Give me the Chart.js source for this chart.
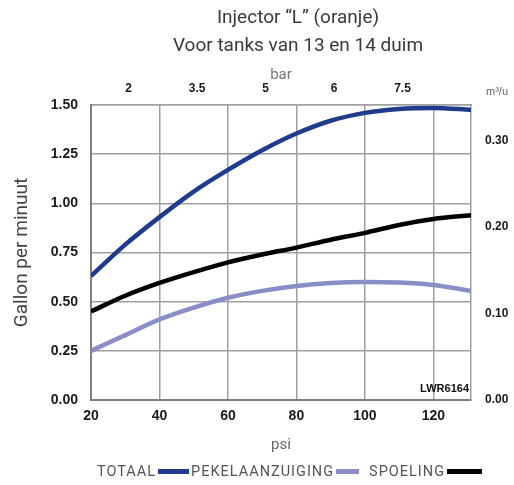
<!DOCTYPE html>
<html>
<head>
<meta charset="utf-8">
<script src="https://cdn.jsdelivr.net/npm/chart.js@4"></script>
<style>
  body { margin: 0; background: #fff; }
  #wrap { position: relative; width: 514px; height: 485px; overflow: hidden; }
  #chartCanvas { position: absolute; left: 0; top: 0; }
  .title {
    position: absolute; left: 98px; top: 3px; width: 400px;
    text-align: center; font-family: Roboto, sans-serif; font-size: 19px;
    line-height: 28px; color: #3a3a3a;
  }
  .legend {
    position: absolute; left: 97px; top: 460px; height: 22px;
    display: flex; align-items: center;
    font-family: Roboto, sans-serif; font-size: 14.5px; color: #555; letter-spacing: 1px;
  }
  .legend .sw { display: inline-block; height: 5px; margin: 0 2px; }
</style>
</head>
<body>
<div id="wrap">
  <canvas id="chartCanvas" width="514" height="485"></canvas>
  <div class="title">Injector “L” (oranje)<br>Voor tanks van 13 en 14 duim</div>
  <div class="legend" id="legend"></div>
</div>
<script>
// data
const psi = [20, 30, 40, 50, 60, 70, 80, 90, 100, 110, 120, 131];
const totaal = [0.63, 0.79, 0.93, 1.06, 1.17, 1.27, 1.355, 1.42, 1.46, 1.48, 1.485, 1.475];
const pekelaanzuiging = [0.25, 0.33, 0.41, 0.47, 0.52, 0.555, 0.58, 0.595, 0.60, 0.597, 0.585, 0.555];
const spoeling = [0.45, 0.53, 0.595, 0.65, 0.70, 0.74, 0.775, 0.815, 0.85, 0.89, 0.92, 0.94];

const seriesNames = ['TOTAAL', 'PEKELAANZUIGING', 'SPOELING'];
const seriesColors = ['#1f3c8c', '#8a8ec6', '#000000'];
const swatchWidths = [31, 23, 35];

const psiTicks = [20, 40, 60, 80, 100, 120];
const barTickPsi = [31, 51, 71, 91, 111];
const barLabels = ['2', '3.5', '5', '6', '7.5'];
const gpmTicks = [0, 0.25, 0.5, 0.75, 1.0, 1.25, 1.5];
const m3Ticks = [0, 0.1, 0.2, 0.3];
const GPM_TO_M3U = 0.2271;

Chart.defaults.font.family = 'Liberation Sans';

// legenda: tekst eerst, daarna het lijntje
const legend = document.getElementById('legend');
seriesNames.forEach((name, i) => {
  const t = document.createElement('span');
  t.textContent = name;
  if (i === 2) t.style.marginLeft = '8px';
  const sw = document.createElement('span');
  sw.className = 'sw';
  sw.style.width = swatchWidths[i] + 'px';
  sw.style.background = seriesColors[i];
  legend.appendChild(t);
  legend.appendChild(sw);
});

// losse teksten op de grafiek
const extraText = {
  id: 'extraText',
  afterDraw(chart) {
    const ctx = chart.ctx;
    const area = chart.chartArea;
    ctx.save();
    ctx.fillStyle = '#111';
    ctx.font = 'bold 11px "Liberation Sans"';
    ctx.textAlign = 'right';
    ctx.textBaseline = 'middle';
    ctx.fillText('LWR6164', area.right - 2, area.bottom - 11);
    ctx.fillStyle = '#666';
    ctx.font = '11px "Liberation Sans"';
    ctx.textAlign = 'center';
    ctx.fillText('m³/u', 497, 92);
    ctx.restore();
  }
};

function makeSet(values, i) {
  return {
    label: seriesNames[i],
    data: psi.map((p, k) => ({ x: p, y: values[k] })),
    borderColor: seriesColors[i],
    borderWidth: 4.5,
    pointRadius: 0,
    cubicInterpolationMode: 'monotone',
    xAxisID: 'x',
    yAxisID: 'y'
  };
}

const gridColor = '#a0a0a0';
const tickFont = { size: 14, weight: 'bold' };

new Chart(document.getElementById('chartCanvas').getContext('2d'), {
  type: 'line',
  data: {
    datasets: [makeSet(totaal, 0), makeSet(pekelaanzuiging, 1), makeSet(spoeling, 2)]
  },
  options: {
    responsive: false,
    animation: false,
    layout: { padding: 0 },
    plugins: { legend: { display: false }, tooltip: { enabled: false } },
    scales: {
      x: {
        type: 'linear', position: 'bottom', min: 20, max: 131,
        afterBuildTicks: s => { s.ticks = psiTicks.map(v => ({ value: v })); },
        afterFit: s => { s.height = 85; },
        grid: { color: gridColor, lineWidth: 1.5, drawTicks: false },
        border: { color: '#808080', width: 2 },
        ticks: { font: tickFont, color: '#1a1a1a', padding: 8, maxRotation: 0 },
        title: { display: true, text: 'psi', color: '#666', font: { size: 15, family: 'Roboto' }, padding: { bottom: 31 } }
      },
      x2: {
        type: 'linear', position: 'top', min: 20, max: 131,
        afterBuildTicks: s => { s.ticks = barTickPsi.map(v => ({ value: v })); },
        afterFit: s => { s.height = 105; },
        grid: { display: false, drawTicks: false },
        border: { color: gridColor, width: 1.5 },
        ticks: { font: { size: 12, weight: 'bold' }, color: '#1a1a1a', padding: 9, maxRotation: 0,
                 callback: (v, i) => barLabels[i] },
        title: { display: true, text: 'bar', color: '#777', font: { size: 15, family: 'Roboto' }, padding: { top: 66 } }
      },
      y: {
        position: 'left', min: 0, max: 1.5,
        afterBuildTicks: s => { s.ticks = gpmTicks.map(v => ({ value: v })); },
        afterFit: s => { s.width = 91; },
        grid: { color: gridColor, lineWidth: 1.5, drawTicks: false },
        border: { color: '#808080', width: 2 },
        ticks: { font: tickFont, color: '#1a1a1a', padding: 13, callback: v => v.toFixed(2) },
        title: { display: true, text: 'Gallon per minuut', color: '#444', font: { size: 19, family: 'Roboto' }, padding: { top: 11 } }
      },
      y2: {
        position: 'right', min: 0, max: 1.5 * GPM_TO_M3U,
        afterBuildTicks: s => { s.ticks = m3Ticks.map(v => ({ value: v })); },
        afterFit: s => { s.width = 43; },
        grid: { display: false, drawTicks: false },
        border: { color: gridColor, width: 1.5 },
        ticks: { font: { size: 12, weight: 'bold' }, color: '#1a1a1a', padding: 14, callback: v => v.toFixed(2) }
      }
    }
  },
  plugins: [extraText]
});
</script>
</body>
</html>
